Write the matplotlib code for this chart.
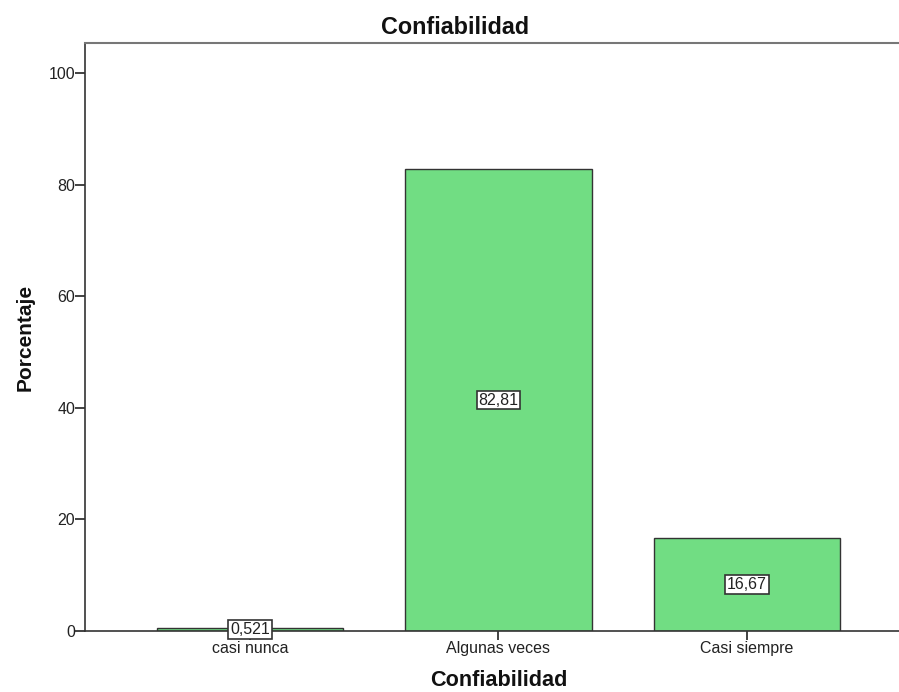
import matplotlib.pyplot as plt
import numpy as np

plt.rcParams['font.family'] = ['Liberation Sans', 'DejaVu Sans']

categorias = ['casi nunca', 'Algunas veces', 'Casi siempre']
porcentajes = [0.521, 82.81, 16.67]
etiquetas = ['0,521', '82,81', '16,67']

W, H = 899, 692
fig = plt.figure(figsize=(W / 100, H / 100), dpi=100, facecolor='w')
ax = fig.add_axes([85/W, 1 - 631/H, 1 - 85/W + 0.002, (631 - 43)/H])

x = np.arange(len(categorias))
ax.bar(x, porcentajes, width=0.75, color='#71DD83', edgecolor='#333333', linewidth=1.0, zorder=2)

# etiquetas de valor en el centro de cada barra
for xi, v, txt in zip(x, porcentajes, etiquetas):
    ax.text(xi, v / 2, txt, ha='center', va='center', size=11.5, color='#222222', zorder=4,
            bbox=dict(boxstyle='square,pad=0.12', fc='w', ec='#333333', lw=1.2))

ax.set_xlim(-0.665, 2.62)
ax.set_ylim(0, 105.4)
ax.set_yticks([0, 20, 40, 60, 80, 100])
ax.set_xticks(x)
ax.set_xticklabels(categorias)
ax.tick_params(axis='y', length=7, width=1.2, labelsize=11.5, colors='#222222', pad=0)
ax.tick_params(axis='x', length=6.5, width=1.2, labelsize=11.5, colors='#222222', pad=1)

for s in ['left', 'bottom']:
    ax.spines[s].set_color('#333333')
    ax.spines[s].set_linewidth(1.2)
ax.spines['top'].set_color('#777777')
ax.spines['top'].set_linewidth(1.5)
ax.spines['right'].set_visible(False)

# titulo centrado en la figura, etiqueta x centrada en el eje
fig.text(455/W, 1 - 34/H, 'Confiabilidad', ha='center', va='baseline',
         fontsize=16.8, fontweight='bold', color='#111111')
fig.text(499/W, 1 - 686/H, 'Confiabilidad', ha='center', va='baseline',
         fontsize=15.6, fontweight='bold', color='#111111')
ax.set_ylabel('Porcentaje', fontsize=15, fontweight='bold', labelpad=10, color='#111111')

fig.savefig('out.png', dpi=100)
